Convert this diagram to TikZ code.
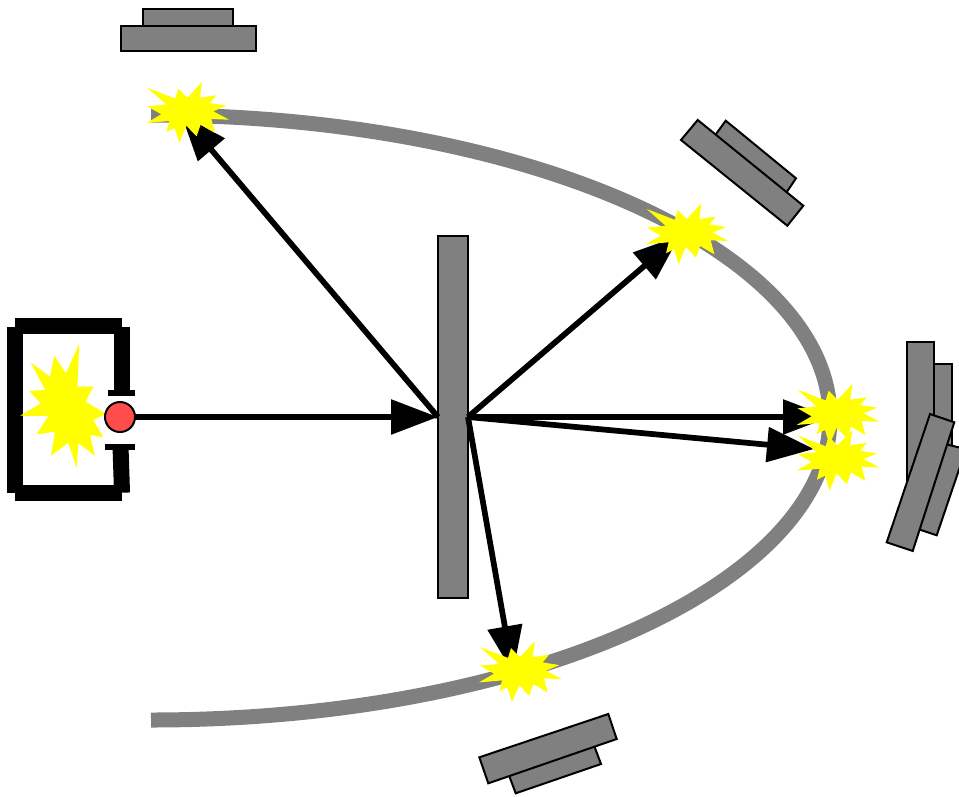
\documentclass[tikz,border=0pt]{standalone}
\usetikzlibrary{arrows.meta}
\definecolor{platefill}{RGB}{128,128,128}
\definecolor{emitterred}{RGB}{255,77,77}
\definecolor{burstyellow}{RGB}{255,255,0}
\def\burstpath{(-40,-24.3) -- (-12,-13.5) -- (-9,-23.3) -- (0,-14.3) -- (14.7,-30) -- (12.7,-14.3) -- (29,-16.7) -- (22.7,-9) -- (39.3,-6.3) -- (26,-0.7) -- (41.7,7.7) -- (24,7) -- (27.7,21) -- (13.3,12.7) -- (9.3,24.3) -- (-1,13.7) -- (-8,30.7) -- (-12.7,16) -- (-20.7,20) -- (-18,9) -- (-41,11) -- (-26,2.3) -- (-40,-5.7) -- (-21,-7.5) -- cycle}
\tikzset{
  x=0.75pt,y=-0.75pt,
  plate/.style={draw=black,fill=platefill,line width=1.5pt,line join=miter},
  mirror/.style={line width=11.25pt,draw=platefill,line cap=butt},
  ray/.style={line width=4.3pt,draw=black,-{Triangle[length=35.25pt,width=25.5pt]}},
  frame/.style={line width=12pt,draw=black,line cap=butt},
  capbar/.style={fill=black},
  burst/.style={fill=burstyellow},
}
\begin{document}
\begin{tikzpicture}
\useasboundingbox (0,0) rectangle (959,796);
% mirror curve
\coordinate (cs) at (151,115);
\coordinate (cv) at (830,417.5);
\coordinate (ce) at (151,720);
\draw[mirror] (cs) .. controls (526,115) and (830,250.5) .. (cv) .. controls (830,584.5) and (526,720) .. (ce);
% detector plates
\draw[plate] (143,9) rectangle (233,30);
\draw[plate] (121,26) rectangle (256,51);
\draw[plate] (725.7,120.7) -- (796,178.3) -- (782,199) -- (711,141) -- cycle;
\draw[plate] (697.7,120) -- (803.3,205.7) -- (787.3,225.7) -- (681,140) -- cycle;
\draw[plate] (592,740) -- (601,764) -- (515.7,793.3) -- (507,770) -- cycle;
\draw[plate] (479.3,757.3) -- (608.3,714) -- (616.7,739) -- (488.3,783.3) -- cycle;
\draw[plate] (934,364) rectangle (952,470);
\draw[plate] (907,342) rectangle (934,480);
\draw[plate] (940,443) -- (966,449) -- (936.7,535.3) -- (912,527) -- cycle;
\draw[plate] (930,414) -- (954.3,422.3) -- (912.7,551) -- (886.7,542.3) -- cycle;
% central plate and emitter
\node[plate,draw,rectangle,minimum width=22.5pt,minimum height=271.5pt,inner sep=0pt,outer sep=0pt] (target) at (453,417) {};
% source frame
\draw[frame] (14.5,327) -- (14.5,492.7);
\draw[frame] (15,326) -- (122,326);
\draw[frame] (122,326.7) -- (122,390);
\draw[frame] (15,493) -- (122,493);
\draw[frame] (122,492.7) -- (120.5,446);
\fill[capbar] (108,390) rectangle (135,396);
\fill[capbar] (105,444.3) rectangle (135,450.3);
% source burst
\fill[burst] (30.7,362.3) -- (50,376.7) -- (54.3,355.7) -- (66,373.3) -- (79.3,343.3) -- (77.3,386.7) -- (93.3,386.7) -- (85.7,401.7) -- (106,414) -- (93.3,420) -- (103.3,437.3) -- (90,435) -- (95,455.7) -- (78.3,443.3) -- (76.7,468.3) -- (68.3,442.7) -- (51,455.7) -- (55,431.7) -- (36.7,434.3) -- (48.3,416) -- (20,415.7) -- (40.7,403.3) -- (29.3,391) -- (45,390) -- cycle;
% rays
\node[circle,draw=black,fill=emitterred,line width=1.5pt,minimum size=22.5pt,inner sep=0pt,outer sep=0pt] (emitter) at (120,417) {};
\coordinate (t1) at (181,114);
\coordinate (t2) at (680,235.4);
\coordinate (t3) at (830,417);
\coordinate (t4) at (814,449);
\coordinate (t5) at (513,673);
\draw[ray] (emitter.east) -- (target.west);
\draw[ray] (target.west) -- (t1);
\draw[ray] (target.east) -- (t2);
\draw[ray] (target.east) -- (t3);
\draw[ray] (target.east) -- (t4);
\draw[ray] (target.east) -- (t5);
% bursts
\fill[burst,shift={(187.3,112)}] \burstpath;
\fill[burst,shift={(686.7,233.3)}] \burstpath;
\fill[burst,shift={(520,671.4)}] \burstpath;
\fill[burst,shift={(837.6,414)}] \burstpath;
\fill[burst,shift={(837.6,459.7)}] \burstpath;
\end{tikzpicture}
\end{document}
